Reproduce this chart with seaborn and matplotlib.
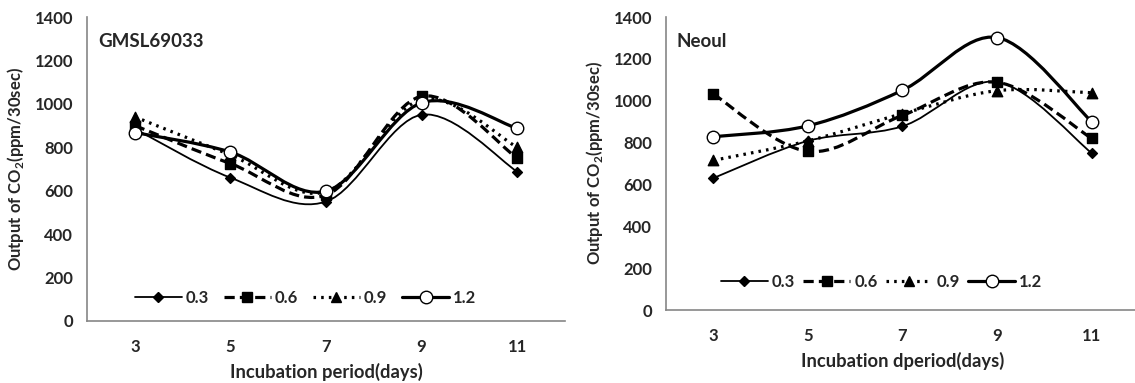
import numpy as np
import pandas as pd
import matplotlib
matplotlib.use("Agg")
import matplotlib.pyplot as plt
import seaborn as sns
from matplotlib.path import Path
from matplotlib.patches import PathPatch
from matplotlib.lines import Line2D

# data
days = ["3", "5", "7", "9", "11"]
doses = ["0.3", "0.6", "0.9", "1.2"]

gmsl_03 = [885, 660, 550, 950, 688]
gmsl_06 = [900, 725, 580, 1035, 750]
gmsl_09 = [940, 765, 595, 1020, 800]
gmsl_12 = [868, 778, 598, 1005, 887]

neoul_03 = [630, 808, 878, 1090, 750]
neoul_06 = [1032, 758, 930, 1088, 820]
neoul_09 = [715, 808, 938, 1048, 1038]
neoul_12 = [828, 880, 1050, 1302, 900]

yticks = [0, 200, 400, 600, 800, 1000, 1200, 1400]

sns.set_style("white")
plt.rcParams['font.family'] = ['Lato', 'DejaVu Sans']
plt.rcParams['font.weight'] = 'bold'
plt.rcParams['mathtext.fontset'] = 'custom'
plt.rcParams['mathtext.rm'] = 'Lato'

AXC = "#868686"

styles = {
    "0.3": dict(ls="-", lw=1.3, marker="D", ms=5, mfc="black", mec="black"),
    "0.6": dict(ls=(0, (3.2, 1.6)), lw=2.3, marker="s", ms=7.5, mfc="black", mec="black"),
    "0.9": dict(ls=(0, (0.8, 1.6)), lw=2.3, marker="^", ms=7.5, mfc="black", mec="black"),
    "1.2": dict(ls="-", lw=2.3, marker="o", ms=9, mfc="white", mec="black"),
}


def smooth_path(ys):
    # Excel-style smoothed line: cubic Bezier through each point
    pts = np.column_stack([np.arange(len(ys)), np.asarray(ys, float)])
    verts = [tuple(pts[0])]
    codes = [Path.MOVETO]
    n = len(pts)
    for i in range(n - 1):
        p0 = pts[max(i - 1, 0)]
        p1 = pts[i]
        p2 = pts[i + 1]
        p3 = pts[min(i + 2, n - 1)]
        c1 = p1 + (p2 - p0) / 6.0
        c2 = p2 - (p3 - p1) / 6.0
        verts += [tuple(c1), tuple(c2), tuple(p2)]
        codes += [Path.CURVE4] * 3
    return Path(verts, codes)


def panel(ax, series, title, xlabel, leg_anchor, colspace):
    df = pd.DataFrame({
        "pos": np.tile(np.arange(len(days)), len(doses)),
        "val": np.concatenate(series),
        "dose": np.repeat(doses, len(days)),
    })
    for d in doses:
        st = styles[d]
        sub = df[df["dose"] == d]
        ax.add_patch(PathPatch(smooth_path(sub["val"].values), fill=False,
                               edgecolor="black", lw=st["lw"], ls=st["ls"],
                               capstyle="butt", zorder=2))
        sns.scatterplot(data=sub, x="pos", y="val", ax=ax, marker=st["marker"],
                        s=st["ms"] ** 2, color=st["mfc"], edgecolor=st["mec"],
                        linewidth=1.0, zorder=3, legend=False)

    ax.set_xlim(-0.5, len(days) - 0.5)
    ax.set_ylim(0, 1400)
    ax.set_yticks(yticks)
    ax.set_xticks(np.arange(-0.5, len(days), 1.0))
    ax.set_xticklabels([])
    ax.set_xticks(np.arange(len(days)), minor=True)
    ax.set_xticklabels(days, minor=True)
    ax.tick_params(axis="x", which="major", length=6, color=AXC, width=1, direction="out")
    ax.tick_params(axis="x", which="minor", length=0, pad=13, labelsize=12)
    ax.tick_params(axis="y", length=5, color=AXC, width=1, direction="out", pad=5, labelsize=12)
    for s in ["top", "right"]:
        ax.spines[s].set_visible(False)
    for s in ["left", "bottom"]:
        ax.spines[s].set_color(AXC)
        ax.spines[s].set_linewidth(1.2)
    ax.set_xlabel(xlabel, fontsize=13.2, fontweight="bold", labelpad=6)
    ax.set_ylabel("Output of CO$_2$(ppm/30sec)", fontsize=12, fontweight="bold", labelpad=6)
    ax.text(0.023, 1285, title, transform=ax.get_yaxis_transform(),
            fontsize=13.5, fontweight="bold", va="center", ha="left")

    handles = []
    for d in doses:
        st = styles[d]
        handles.append(Line2D([], [], color="black", lw=st["lw"], ls=st["ls"],
                              marker=st["marker"], ms=st["ms"], mfc=st["mfc"],
                              mec=st["mec"]))
    leg = ax.legend(handles, doses, loc="center left", bbox_to_anchor=leg_anchor,
                    ncol=4, frameon=False, handlelength=2.8, handletextpad=0.25,
                    columnspacing=colspace, fontsize=12, borderpad=0, borderaxespad=0)
    for t in leg.get_texts():
        t.set_fontweight("bold")


fig = plt.figure(figsize=(11.35, 3.83), dpi=100)
ax1 = fig.add_axes([0.0767, 0.1619, 0.4211, 0.7937])
ax2 = fig.add_axes([0.5868, 0.1906, 0.4167, 0.765])

panel(ax1, [gmsl_03, gmsl_06, gmsl_09, gmsl_12], "GMSL69033",
      "Incubation period(days)", (0.10, 0.076), 0.9)
panel(ax2, [neoul_03, neoul_06, neoul_09, neoul_12], "Neoul",
      "Incubation dperiod(days)", (0.116, 0.096), 0.5)

fig.savefig("out.png", dpi=100)
